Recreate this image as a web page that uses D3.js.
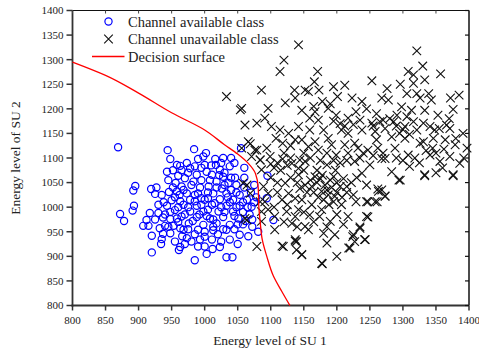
<!DOCTYPE html>
<html><head><meta charset="utf-8">
<script src="https://cdn.jsdelivr.net/npm/d3@7"></script>
<style>body{margin:0;background:#fff}svg{display:block}text{font-family:"Liberation Serif","Times New Roman",serif;fill:#222}</style>
</head><body>
<script>
const xTicks=[800,850,900,950,1000,1050,1100,1150,1200,1250,1300,1350,1400];
const yTicks=[800,850,900,950,1000,1050,1100,1150,1200,1250,1300,1350,1400];
const legendLabels=["Channel available class","Channel unavailable class","Decision surface"];
const axisTitles=["Energy level of SU 1","Energy level of SU 2"];
const available=[[869,1122],[944,1116],[948,1098],[958,1086],[963,1084],[943,1072],[960,1064],[945,1055],[956,1049],[895,1043],[892,1034],[919,1037],[927,1040],[925,1027],[935,1025],[946,1031],[958,1032],[950,1014],[963,1012],[955,994],[943,1003],[893,1003],[891,993],[917,988],[930,988],[912,974],[925,975],[937,979],[948,976],[958,977],[872,986],[878,972],[907,962],[915,962],[932,957],[940,962],[953,962],[963,957],[937,946],[948,947],[920,942],[935,935],[934,925],[963,919],[961,913],[920,908],[966,941],
[984,1118],[998,1103],[990,1098],[1016,1098],[1017,1086],[1038,1083],[973,1090],[978,1079],[985,1083],[1000,1086],[1003,1072],[1023,1076],[988,1066],[1011,1066],[1028,1062],[970,1059],[995,1055],[1018,1052],[1036,1049],[1048,1045],[965,1042],[980,1045],[1006,1042],[1026,1038],[973,1028],[990,1028],[1013,1028],[1033,1028],[1053,1025],[978,1015],[1000,1015],[1023,1016],[1043,1015],[1064,1015],[968,1005],[988,1003],[1011,1005],[1033,1003],[1053,1003],[1071,1001],[978,991],[998,991],[1021,991],[1043,991],[965,981],[988,980],[1008,977],[1028,980],[1051,977],[976,967],[998,964],[1018,967],[1038,964],[968,954],[990,954],[1013,953],[1033,954],[1053,944],[1066,941],[1081,950],[973,937],[993,934],[1011,934],[1023,919],[1038,934],[1000,920],[985,892],[1033,898],[1042,898],
[1055,1120],[1095,1064],[1104,974],[1094,1018],[1060,1040],[1070,1030],[1075,1010],[1068,985],[1058,965],[1072,960],[1046,1060],[1060,1080],[1040,1100],[1028,1100],
[955,1020],[968,1035],[983,1052],[993,1040],[1005,1030],[1018,1040],[1030,1045],[1040,1035],[960,1000],[975,1000],[985,1012],[995,1005],[1005,995],[1015,1008],[1025,1000],[1038,1010],[1048,1000],[970,985],[982,972],[992,985],[1003,982],[1013,975],[1030,990],[1045,982],[1058,990],[960,970],[975,955],[985,945],[1000,950],[1020,945],[1028,955],[1045,955],[1050,965],[1062,972],[948,990],[952,1040],[938,1010],[930,1005],[975,1070],[995,1080],[1010,1085],[1030,1070],[1040,1060],[1008,1055],[1022,1065],[985,1025],[995,1018],[1005,1018],[1035,1020],[1048,1030],[1058,1010],[1065,1000],[1000,940],[1013,960],[1025,930],[990,920],[980,930],[955,930],[945,960],[940,985],[962,1025],[1002,1110],[1025,1090],[1045,1090],[965,1075],[952,1075],[1060,1060],[1075,1045],[1078,1020],[1072,975],[1050,925],[1012,915],[1003,905],[970,925]];
const unavailable=[[1142,1330],[1120,1299],[1114,1276],[1086,1238],[1136,1238],[1033,1225],[1122,1212],[1137,1222],[1056,1201],[1096,1201],[1061,1167],[1079,1171],[1091,1181],[1101,1164],[1114,1157],[1127,1150],[1137,1137],[1066,1133],[1076,1116],[1094,1120],[1071,1103],[1084,1096],[1099,1103],[1132,1089],[1142,1079],[1064,1045],[1089,1042],[1096,1028],[1122,1049],[1127,1028],[1137,1018],[1117,1015],[1091,1011],[1086,991],[1096,995],[1106,981],[1124,991],[1142,995],[1064,974],[1132,967],[1106,954],[1086,971],[1079,920],[1119,920],[1137,934],[1139,913],
[1178,885],[1200,900],[1147,904],[1117,921],[1137,931],[1218,917],[1224,940],[1242,934],[1235,960],[1247,980],[1262,1037],[1247,1011],[1261,1011],[1273,1023],[1294,1055],[1333,1064],[1376,1064],[1054,1198],
[1171,1276],[1166,1255],[1152,1238],[1157,1235],[1173,1238],[1195,1245],[1212,1248],[1201,1225],[1223,1222],[1253,1257],[1238,1215],[1229,1194],[1268,1222],[1147,1197],[1167,1194],[1187,1201],[1199,1187],[1159,1181],[1172,1177],[1217,1181],[1235,1177],[1253,1171],[1265,1174],[1142,1164],[1159,1157],[1180,1157],[1207,1157],[1217,1150],[1238,1157],[1258,1154],[1147,1137],[1167,1133],[1187,1140],[1192,1127],[1212,1127],[1227,1130],[1260,1137],[1157,1123],[1172,1116],[1185,1110],[1199,1106],[1217,1110],[1247,1116],[1144,1096],[1152,1093],[1185,1086],[1227,1093],[1250,1086],[1238,1069],[1268,1099],[1142,1066],[1167,1062],[1152,1045],[1162,1042],[1144,1038],[1177,1032],[1187,1025],[1197,1022],[1205,1042],[1215,1042],[1229,1011],[1245,1045],[1245,1011],[1263,1032],[1258,1011],[1147,1015],[1162,1005],[1177,995],[1195,1011],[1207,1005],[1137,981],[1159,984],[1174,981],[1190,971],[1217,981],[1245,981],[1152,961],[1157,954],[1180,947],[1197,944],[1235,957],[1225,944],[1139,930],[1185,927],[1227,930],[1243,934],[1220,917],[1147,903],[1177,886],
[1321,1318],[1308,1276],[1330,1287],[1316,1269],[1357,1271],[1333,1259],[1296,1250],[1316,1252],[1276,1241],[1306,1231],[1321,1231],[1339,1231],[1278,1218],[1326,1222],[1343,1218],[1372,1222],[1385,1228],[1298,1204],[1313,1197],[1333,1197],[1376,1199],[1291,1187],[1306,1184],[1353,1187],[1270,1177],[1286,1174],[1316,1174],[1331,1171],[1366,1167],[1273,1160],[1303,1164],[1321,1157],[1341,1164],[1348,1157],[1371,1160],[1391,1150],[1283,1143],[1303,1140],[1331,1133],[1364,1137],[1346,1140],[1288,1120],[1326,1130],[1379,1127],[1397,1120],[1273,1099],[1308,1106],[1341,1106],[1356,1093],[1371,1103],[1386,1089],[1283,1072],[1296,1055],[1310,1083],[1333,1066],[1376,1066],[1268,1035],[1273,1022],
[1056,1120],[1069,1129],[1079,1116],[1084,1096],[1086,1076],[1058,1049],[1069,1028],[1061,977],[1084,1011],
[1110,1090],[1118,1098],[1125,1085],[1105,1080],[1130,1100],[1115,1075],[1120,1110],[1100,1088],
[1170,1050],[1175,1058],[1182,1045],[1190,1055],[1195,1062],[1200,1050],[1210,1058],[1185,1035],[1192,1040],[1178,1065],[1165,1030],[1172,1020],[1180,1015],[1200,1030],[1208,1020],[1215,1030],[1188,1005],[1160,1055],[1155,1030],[1222,1050],[1230,1060],[1225,1025],[1198,1075],[1170,1075],
[1205,1170],[1212,1165],[1225,1168],[1195,1175],[1295,1150],[1300,1158],[1310,1148],[1290,1165],
[1235,1100],[1240,1110],[1232,1120],[1255,1105],[1262,1120],[1270,1110],[1335,1115],[1345,1120],[1350,1110],[1362,1118],
[1178,1215],[1190,1210],[1165,1205],[1108,1140],[1118,1130],[1130,1125],[1150,1110],[1160,1100],[1175,1095],[1205,1090],[1215,1095],
[1290,1100],[1300,1095],[1318,1100],[1325,1090],
[1100,1060],[1110,1050],[1130,1060],[1150,1075],[1110,1030],[1140,1050],[1125,1005],[1105,1000],[1150,990],[1165,970],[1185,960],[1200,985],[1210,965],[1140,960],[1120,970],[1195,1095],
[1280,1180],[1260,1190],[1245,1200],[1255,1165],[1370,1180],[1380,1140],[1355,1160],[1392,1100],[1360,1080],[1350,1070]];
const surface=[[800,1295],[850,1268],[900,1232],[950,1192],[1000,1157],[1030,1127],[1050,1108],[1066,1089],[1077,1068],[1081,1040],[1082,1000],[1084,970],[1087,935],[1094,900],[1104,860],[1117,828],[1129,800]];

const W=479,H=356;
const svg=d3.select("body").append("svg").attr("width",W).attr("height",H);
const x=d3.scaleLinear().domain([800,1400]).range([72.5,469]);
const y=d3.scaleLinear().domain([800,1400]).range([305.5,10.5]);

// frame
const fr=svg.append("g");
fr.append("line").attr("x1",x(800)).attr("x2",x(1400)).attr("y1",y(1400)).attr("y2",y(1400)).attr("stroke","#111").attr("stroke-width",1.2);
fr.append("line").attr("x1",x(1400)).attr("x2",x(1400)).attr("y1",y(800)).attr("y2",y(1400)).attr("stroke","#111").attr("stroke-width",1.5);
fr.append("line").attr("x1",x(800)).attr("x2",x(800)).attr("y1",y(800)+1).attr("y2",y(1400)).attr("stroke","#333").attr("stroke-width",1.8);
fr.append("line").attr("x1",x(800)-1).attr("x2",x(1400)).attr("y1",y(800)).attr("y2",y(800)).attr("stroke","#333").attr("stroke-width",1.8);

// ticks
xTicks.forEach(t=>{
  fr.append("line").attr("x1",x(t)).attr("x2",x(t)).attr("y1",y(800)).attr("y2",y(800)+5).attr("stroke","#333").attr("stroke-width",1.5);
  fr.append("line").attr("x1",x(t)).attr("x2",x(t)).attr("y1",y(1400)).attr("y2",y(1400)+3).attr("stroke","#444").attr("stroke-width",1);
  svg.append("text").attr("x",x(t)).attr("y",324).attr("text-anchor","middle").attr("font-size","11px").text(t);
});
yTicks.forEach(t=>{
  fr.append("line").attr("x1",x(800)-6).attr("x2",x(800)).attr("y1",y(t)).attr("y2",y(t)).attr("stroke","#333").attr("stroke-width",1.5);
  fr.append("line").attr("x1",x(1400)-4).attr("x2",x(1400)).attr("y1",y(t)).attr("y2",y(t)).attr("stroke","#111").attr("stroke-width",1.2);
  svg.append("text").attr("x",63.5).attr("y",y(t)).attr("dy","0.35em").attr("text-anchor","end").attr("font-size","11px").text(t);
});

// axis titles
svg.append("text").attr("x",270).attr("y",345).attr("text-anchor","middle").attr("font-size","13.5px").text(axisTitles[0]);
svg.append("text").attr("transform","translate(20,158) rotate(-90)").attr("text-anchor","middle").attr("font-size","13.5px").text(axisTitles[1]);

// circles
svg.append("g").selectAll("circle").data(available).join("circle")
  .attr("cx",d=>x(d[0])).attr("cy",d=>y(d[1])).attr("r",3.6)
  .attr("fill","none").attr("stroke","#0000ff").attr("stroke-width",1.2);

// crosses
const cs=4.3;
svg.append("g").selectAll("path").data(unavailable).join("path")
  .attr("d",d=>{const cx=x(d[0]),cy=y(d[1]);return `M${cx-cs},${cy-cs}L${cx+cs},${cy+cs}M${cx-cs},${cy+cs}L${cx+cs},${cy-cs}`;})
  .attr("stroke","#111").attr("stroke-width",1.1).attr("fill","none");

// decision surface
svg.append("path").datum(surface)
  .attr("d",d3.line().x(d=>x(d[0])).y(d=>y(d[1])).curve(d3.curveMonotoneY))
  .attr("fill","none").attr("stroke","#ff0000").attr("stroke-width",1.3);

// legend
const lg=svg.append("g");
lg.append("circle").attr("cx",108.5).attr("cy",21.5).attr("r",3.6).attr("fill","none").attr("stroke","#0000ff").attr("stroke-width",1.2);
lg.append("path").attr("d",`M${108.5-cs},${39-cs}L${108.5+cs},${39+cs}M${108.5-cs},${39+cs}L${108.5+cs},${39-cs}`).attr("stroke","#111").attr("stroke-width",1.1);
lg.append("line").attr("x1",92).attr("x2",124.5).attr("y1",56.5).attr("y2",56.5).attr("stroke","#ff0000").attr("stroke-width",1.3);
[26.5,44,61.5].forEach((yy,i)=>lg.append("text").attr("x",128).attr("y",yy).attr("font-size","14.5px").text(legendLabels[i]));
</script>
</body></html>
